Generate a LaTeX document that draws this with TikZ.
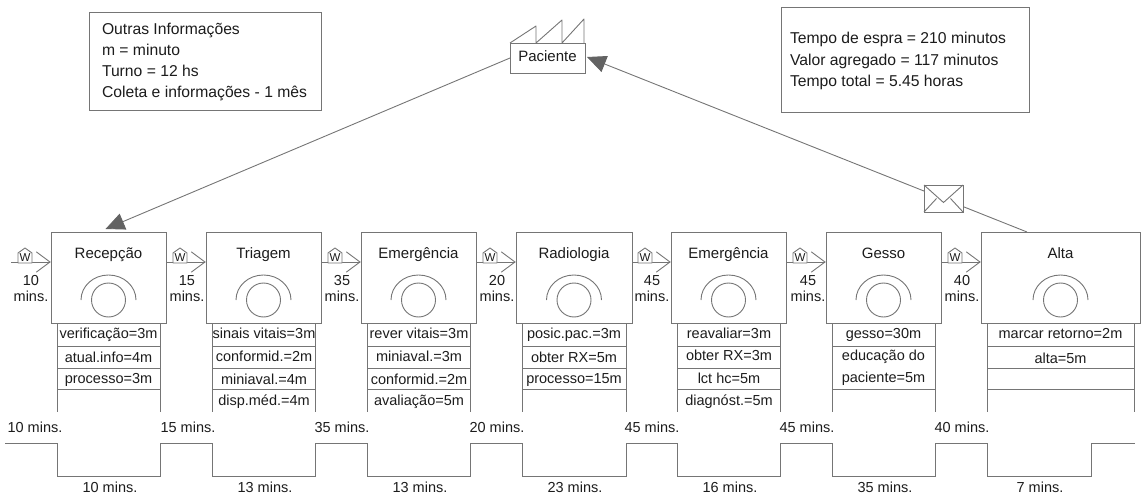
\documentclass[tikz,border=0pt]{standalone}
\usepackage{fontspec}
\setmainfont{Liberation Sans}
\usetikzlibrary{arrows.meta,calc,backgrounds}
\definecolor{ln}{HTML}{757575}
\definecolor{txt}{HTML}{1c1c1c}
\tikzset{
  every node/.style={text=txt,font=\fontsize{14.5}{15}\selectfont,inner sep=0pt,outer sep=0pt},
  ln/.style={draw=ln,line width=0.9pt},
  procbox/.style={ln,fill=white,minimum height=91pt,anchor=north west},
  infobox/.style={ln,fill=white,anchor=north west},
  infotext/.style={anchor=west,font=\fontsize{15.7}{16}\selectfont,text height=13pt,text depth=1pt},
  rowtext/.style={anchor=center,text height=12pt,text depth=1pt},
  titletext/.style={anchor=center,font=\fontsize{15}{16}\selectfont,text height=13pt,text depth=1pt},
  timetext/.style={anchor=center,text height=12pt,text depth=1pt},
  info/.style={draw=ln,line width=0.9pt,-{Triangle[length=19pt,width=17pt,fill=ln!85!black,color=ln!85!black]}},
  pushtip/.style={ln,line cap=round},
  wtext/.style={font=\fontsize{11.5}{11}\selectfont},
}
\begin{document}
\begin{tikzpicture}[x=1pt,y=-1pt]
\useasboundingbox (0,0) rectangle (1144,495);
% info boxes
\node[infobox,minimum width=232pt,minimum height=98pt] (outras) at (89,12) {};
\node[infotext] (o1) at (102,29) {Outras Informações};
\node[infotext] (o2) at (102,50) {m = minuto};
\node[infotext] (o3) at (102,71) {Turno = 12 hs};
\node[infotext] (o4) at (102,92) {Coleta e informações - 1 mês};
\node[infobox,minimum width=248pt,minimum height=105pt] (resumo) at (781,7) {};
\node[infotext] (r1) at (790,38) {Tempo de espra = 210 minutos};
\node[infotext] (r2) at (790,60) {Valor agregado = 117 minutos};
\node[infotext] (r3) at (790,81) {Tempo total = 5.45 horas};
% customer
\node[ln,fill=white,minimum width=75pt,minimum height=30pt,titletext,anchor=north west,text height=11pt,text depth=3pt] (pac) at (510,43) {Paciente};
\draw[ln,line join=round] (pac.north west) -- ++(26,-17) -- ++(0,17) -- ++(26,-23) -- ++(0,23) -- ++(22,-24) -- ++(0,24);
% processes
\foreach \n/\x/\w/\t in {rec/51/115/Recepção,tri/206/115/Triagem,em1/361/115/Emergência,rad/516/116/Radiologia,em2/671/115/Emergência,ges/826/115/Gesso,alt/981/159/Alta}{
  \node[procbox,minimum width=\w pt] (\n) at (\x,232) {};
  \node[titletext] (\n-t) at (\x+\w/2,252.5) {\t};
  \coordinate (\n-c) at (\x+\w/2,300);
  \draw[ln] (\n-c) circle[radius=17pt];
  \draw[ln] ($(\n-c)+(-27.5,0)$) arc[start angle=180,end angle=0,x radius=27.5pt,y radius=25pt];
  \coordinate (\n-tl) at (\x+6,412);
  \coordinate (\n-tr) at (\x+\w-6,412);
  \draw[ln] (\n-tl |- \n.south) -- (\n-tl);
  \draw[ln] (\n-tr |- \n.south) -- (\n-tr);
}
% row lines
\foreach \n in {rec,tri,em1,rad,em2,alt}{
  \foreach \y in {346.7,368,389.5}{
    \coordinate (a) at (0,\y);
    \draw[ln] (\n-tl |- a) -- (\n-tr |- a);
  }
}
\coordinate (ga) at (0,346.7); \coordinate (gb) at (0,389.5);
\draw[ln] (ges-tl |- ga) -- (ges-tr |- ga);
\draw[ln] (ges-tl |- gb) -- (ges-tr |- gb);
% row texts
\node[rowtext] (rec-1) at (108.5,333) {verificação=3m};
\node[rowtext] (rec-2) at (108.5,357) {atual.info=4m};
\node[rowtext] (rec-3) at (108.5,378) {processo=3m};
\node[rowtext] (tri-1) at (264,333) {sinais vitais=3m};
\node[rowtext] (tri-2) at (264,356) {conformid.=2m};
\node[rowtext] (tri-3) at (264,379) {miniaval.=4m};
\node[rowtext] (tri-4) at (264,400) {disp.méd.=4m};
\node[rowtext] (em1-1) at (419,333) {rever vitais=3m};
\node[rowtext] (em1-2) at (419,356) {miniaval.=3m};
\node[rowtext] (em1-3) at (419,379) {conformid.=2m};
\node[rowtext] (em1-4) at (419,400) {avaliação=5m};
\node[rowtext] (rad-1) at (574,333) {posic.pac.=3m};
\node[rowtext] (rad-2) at (574,356.5) {obter RX=5m};
\node[rowtext] (rad-3) at (574,378) {processo=15m};
\node[rowtext] (em2-1) at (729,333) {reavaliar=3m};
\node[rowtext] (em2-2) at (729,355) {obter RX=3m};
\node[rowtext] (em2-3) at (729,378) {lct hc=5m};
\node[rowtext] (em2-4) at (729,400) {diagnóst.=5m};
\node[rowtext] (ges-1) at (883.5,333) {gesso=30m};
\node[rowtext] (ges-2) at (883.5,355) {educação do};
\node[rowtext] (ges-3) at (883.5,377) {paciente=5m};
\node[rowtext] (alt-1) at (1060.5,333) {marcar retorno=2m};
\node[rowtext] (alt-2) at (1060.5,358) {alta=5m};
% push arrows
\coordinate (start) at (11,262);
\foreach \p/\n/\m/\lx/\lb in {start/rec/k1/31/10,rec/tri/k2/187/15,tri/em1/k3/342/35,em1/rad/k4/497/20,rad/em2/k5/652/45,em2/ges/k6/808/45,ges/alt/k7/962/40}{
  \coordinate (\m-tip) at ([xshift=-1pt]\n.west |- start);
  \coordinate (\m-ho) at ([xshift=-26pt]\n.west |- start);
  \draw[ln] (\m-ho -| \p.east) -- (\m-tip);
  \draw[pushtip] ([shift={(-13.5,-10)}]\m-tip) -- (\m-tip) -- ([shift={(-13.5,10)}]\m-tip);
  \draw[ln,fill=white,line join=round] ([shift={(-7,1)}]\m-ho) -- ([shift={(-7,-9)}]\m-ho) -- ([shift={(0,-14)}]\m-ho) -- ([shift={(7,-9)}]\m-ho) -- ([shift={(7,1)}]\m-ho) -- cycle;
  \node[wtext] (\m-w) at ([yshift=4.5pt]\m-ho) {W};
  \node[align=center,font=\fontsize{14.5}{16}\selectfont] (\m-l) at (\lx,288.5) {\lb\\mins.};
}
% timeline
\coordinate (tTop) at (0,443);
\coordinate (tBot) at (0,476);
\coordinate (tStart) at (5,443);
\coordinate (tEnd) at (1135,443);
\coordinate (altDip) at (1091,476);
\draw[ln,line join=miter] (tStart)
  foreach \s in {rec,tri,em1,rad,em2,ges}{ -- (\s-tl |- tTop) -- (\s-tl |- tBot) -- (\s-tr |- tBot) -- (\s-tr |- tTop) }
  -- (alt-tl |- tTop) -- (alt-tl |- tBot) -- (altDip) -- (altDip |- tTop) -- (tEnd);
\foreach \i/\x/\t in {1/35/10,2/188/15,3/342/35,4/497/20,5/652/45,6/807/45,7/962/40}{
  \node[timetext] (top\i) at (\x,427) {\t{} mins.};
}
\foreach \i/\x/\t in {1/110/10,2/265/13,3/420/13,4/575/23,5/730/16,6/885/35,7/1040/7}{
  \node[timetext] (bot\i) at (\x,487) {\t{} mins.};
}
% mail
\node[ln,fill=white,minimum width=39pt,minimum height=27pt] (mail) at (943.5,198.5) {};
\draw[ln] (mail.north west) -- ([yshift=-4pt]mail.center) -- (mail.north east);
\draw[ln] (mail.south west) -- ([shift={(-7,0)}]mail.center);
\draw[ln] (mail.south east) -- ([shift={(7,0)}]mail.center);
% information flow
\draw[info] (pac.west) -- ([shift={(-3,-3)}]rec.north);
\begin{pgfonlayer}{background}
\draw[info] ([xshift=-33.5pt]alt.north) -- ([xshift=2pt,yshift=1pt]pac.east);
\end{pgfonlayer}
\end{tikzpicture}
\end{document}
